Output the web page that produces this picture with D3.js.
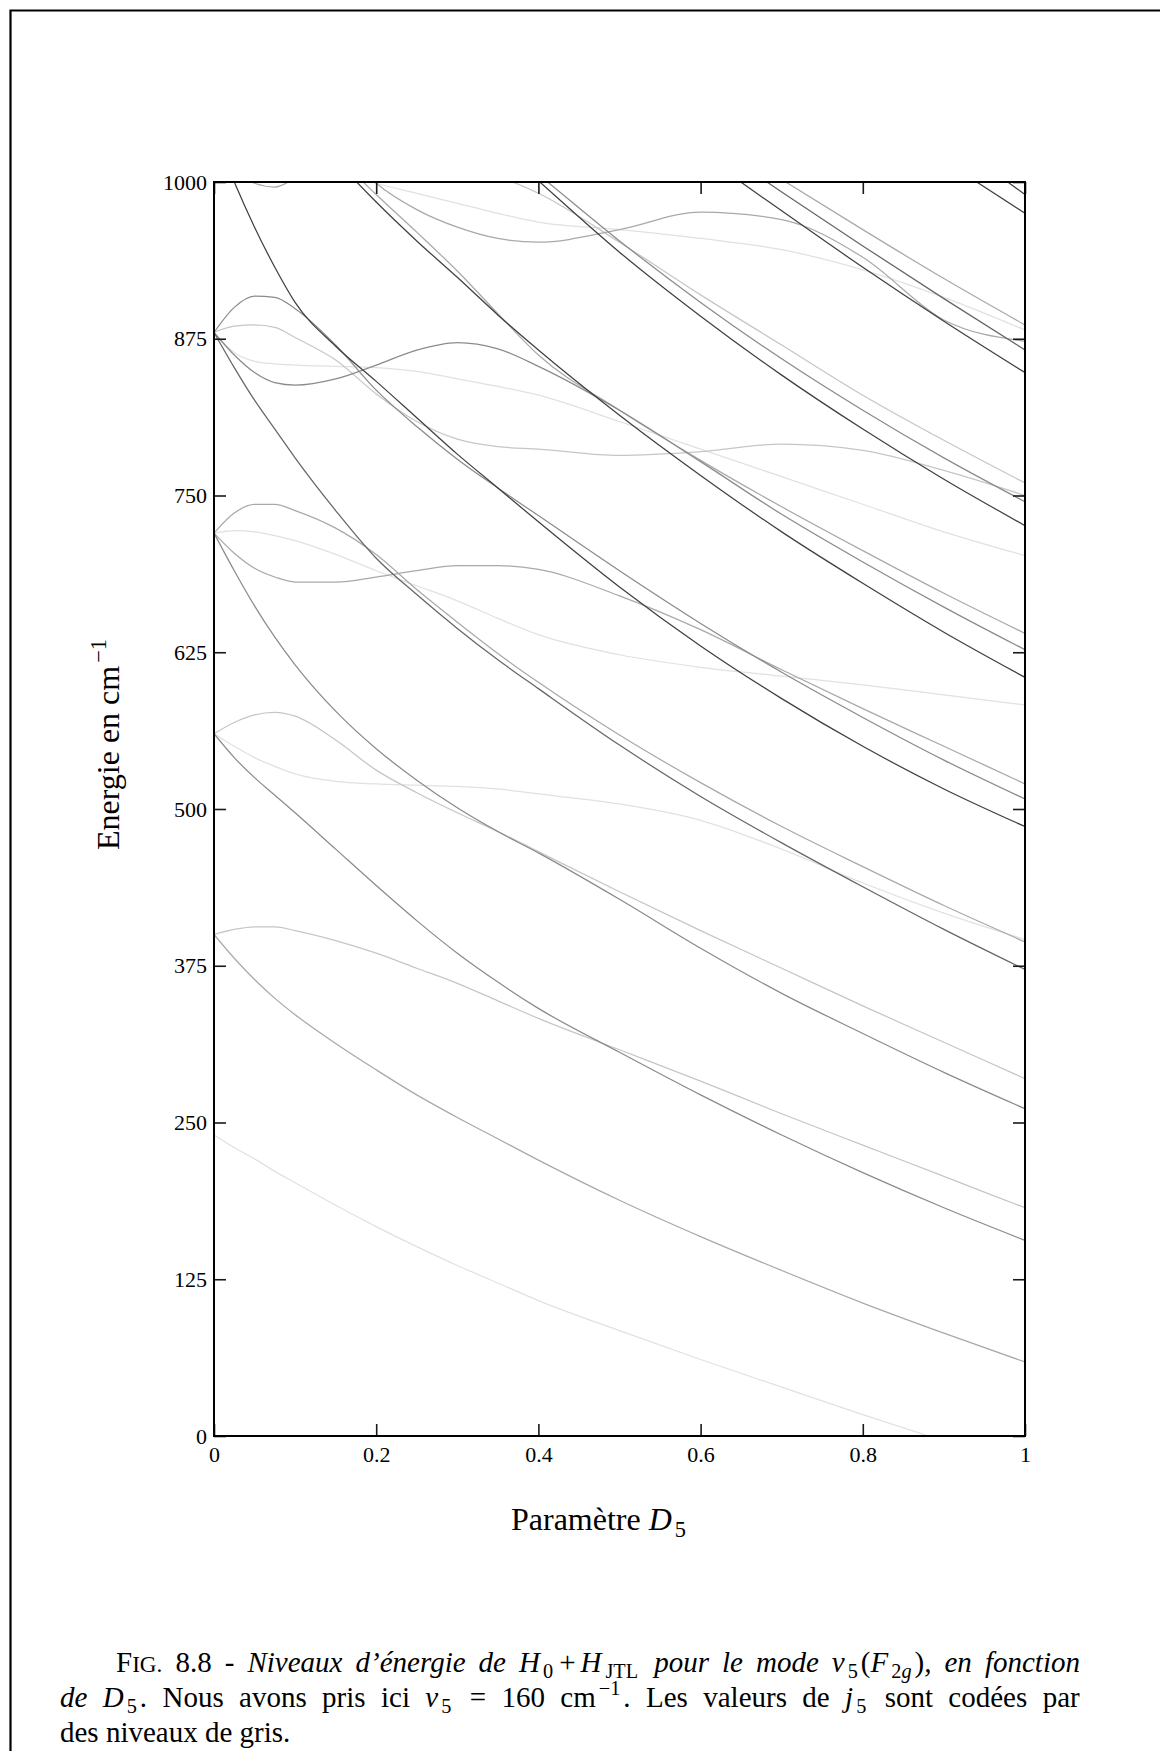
<!DOCTYPE html>
<html><head><meta charset="utf-8">
<script src="https://cdn.jsdelivr.net/npm/d3@7"></script>
<style>
html,body{margin:0;padding:0;background:#fff;}
svg{display:block;}
text{font-family:"Liberation Serif","Times New Roman",serif;fill:#000;}
</style></head><body>
<svg id="chart" width="1160" height="1751"></svg>
<script>
// ---------- data ----------
const xGrid = [0, 0.025, 0.05, 0.075, 0.1, 0.15, 0.2, 0.25, 0.3, 0.35, 0.4, 0.5, 0.6, 0.7, 0.8, 0.9, 1];
const yTicks = [0, 125, 250, 375, 500, 625, 750, 875, 1000];
const xTicks = [0, 0.2, 0.4, 0.6, 0.8, 1];
const xTickLabels = ["0", "0.2", "0.4", "0.6", "0.8", "1"];
const grayLevels = ["#e1e1e1", "#c6c6c6", "#a9a9a9", "#8b8b8b", "#666666", "#404040"];

const level240   = [240,230,221,211,202,184,167,151,136,122,108,84,61,39,17,-4,-24];
const level400a  = [400,381,364,349,336,313,292,272,254,237,220,188,159,132,106,82,59];
const level400b  = [400,404,406,406,403,395,385,373,361,347,333,308,283,257,232,207,182];
const level560a  = [560,541,525,511,497,468,439,411,385,362,341,306,272,240,210,182,156];
const level560b  = [560,569,575,577,574,555,531,513,497,482,466,434,403,373,343,314,285];
const level560c  = [560,550,541,534,528,522,520,519,518,516,512,504,491,468,441,417,396];
const level720a  = [720,704,692,685,681,681,685,690,694,694,691,670,643,611,580,550,520];
const level720b  = [720,690,662,637,615,578,548,523,501,482,465,428,389,353,321,290,261];
const level720c  = [720,736,743,743,738,724,703,675,649,624,601,559,521,486,454,423,394];
const level720d  = [720,722,721,718,714,703,690,678,666,652,639,623,613,606,599,591,583];
const level880a  = [880,852,826,803,780,738,700,671,644,619,596,551,510,473,438,404,372];
const level880b  = [880,900,909,908,899,870,834,805,779,756,734,690,648,609,573,539,508];
const level880c  = [880,885,886,884,876,858,831,809,795,789,787,782,785,791,786,770,750];
const level880d  = [880,864,857,855,854,853,852,849,843,837,830,809,787,765,743,721,702];
const level880e  = [880,862,848,840,838,843,854,866,872,867,853,818,777,735,697,661,627];
const level1040a = [1040,1000,964,932,904,869,841,812,783,756,729,677,630,588,550,516,486];
const level1040b = [1040,1013,999,996,1003,1020,null,null,null,null,null,null,null,null,null,null,null];
const upperA = [null,null,null,null,1055,1018,984,953,924,894,866,814,766,721,680,641,605];
const upperB = [null,null,null,null,1060,1022,990,960,929,895,862,818,778,741,706,672,640];
const upperC = [null,null,null,null,1022,1010,999,991,983,975,968,962,955,946,930,908,882];
const upperD = [null,null,null,null,null,1032,999,978,964,955,952,962,976,970,940,890,873];
const upperE = [null,null,null,null,null,null,null,null,1019,1005,991,952,910,870,830,794,760];
const upperF = [null,null,null,null,null,null,null,null,null,1032,1006,953,904,859,818,780,745];
const upperG = [null,null,null,null,null,null,null,null,null,1030,1001,944,893,846,803,763,726];
const upperH = [null,null,null,null,null,null,null,null,null,null,null,1072,1023,977,932,889,848];
const upperI = [null,null,null,null,null,null,null,null,null,null,null,null,1036,992,949,907,866];
const upperJ = [null,null,null,null,null,null,null,null,null,null,null,null,1043,1002,962,923,886];
const upperK = [null,null,null,null,null,null,null,null,null,null,null,null,null,null,1060,1017,975];
const upperL = [null,null,null,null,null,null,null,null,null,null,null,null,null,null,1078,1036,990];

const curveValues = [level240, level400a, level400b, level560a, level560b, level560c,
  level720a, level720b, level720c, level720d, level880a, level880b, level880c, level880d, level880e,
  level1040a, level1040b, upperA, upperB, upperC, upperD, upperE, upperF, upperG, upperH, upperI,
  upperJ, upperK, upperL];
const curveJ = [0, 2, 1, 3, 1, 0, 2, 3, 2, 0, 4, 3, 1, 0, 3, 5, 2, 5, 2, 0, 2, 1, 3, 5, 5, 4, 2, 5, 5];

// ---------- layout ----------
const svg = d3.select("#chart");
const X0 = 214, X1 = 1025, Y0 = 1436, Y1 = 182;
const x = d3.scaleLinear().domain([0, 1]).range([X0, X1]);
const y = d3.scaleLinear().domain([0, 1000]).range([Y0, Y1]);

// page frame
svg.append("path").attr("d", "M10.5,1751 V10.5 H1160").attr("fill", "none")
  .attr("stroke", "#000").attr("stroke-width", 2.2);

svg.append("defs").append("clipPath").attr("id", "plotclip")
  .append("rect").attr("x", X0).attr("y", Y1).attr("width", X1 - X0).attr("height", Y0 - Y1);

const line = d3.line()
  .defined(d => d[1] !== null)
  .x(d => x(d[0])).y(d => y(d[1]))
  .curve(d3.curveMonotoneX);

const curves = curveValues.map((vals, i) => ({ j: curveJ[i], pts: xGrid.map((g, k) => [g, vals[k]]) }));
curves.sort((a, b) => a.j - b.j);

svg.append("g").attr("clip-path", "url(#plotclip)")
  .selectAll("path").data(curves).join("path")
  .attr("d", d => line(d.pts))
  .attr("fill", "none")
  .attr("stroke", d => grayLevels[d.j])
  .attr("stroke-width", 1.25);

// axes
const tickStyle = g => {
  g.select(".domain").remove();
  g.selectAll(".tick line").attr("stroke", "#1a1a1a").attr("stroke-width", 1.6);
  g.selectAll(".tick text").attr("font-family", '"Liberation Serif", serif').attr("font-size", 22).attr("fill", "#000");
};
svg.append("g").attr("transform", `translate(${X0},0)`)
  .call(d3.axisLeft(y).tickValues(yTicks).tickFormat(d3.format("d")).tickSize(-12).tickPadding(7))
  .call(tickStyle);
svg.append("g").attr("transform", `translate(${X1},0)`)
  .call(d3.axisRight(y).tickValues(yTicks).tickFormat("").tickSize(-12))
  .call(tickStyle);
svg.append("g").attr("transform", `translate(0,${Y0})`)
  .call(d3.axisBottom(x).tickValues(xTicks).tickFormat((d, i) => xTickLabels[i]).tickSize(-12).tickPadding(10))
  .call(tickStyle);
svg.append("g").attr("transform", `translate(0,${Y1})`)
  .call(d3.axisTop(x).tickValues(xTicks).tickFormat("").tickSize(-12))
  .call(tickStyle);

svg.append("rect").attr("x", X0).attr("y", Y1).attr("width", X1 - X0).attr("height", Y0 - Y1)
  .attr("fill", "none").attr("stroke", "#000").attr("stroke-width", 2);

// rich text helper
function rich(sel, segs, size) {
  let shift = 0;
  segs.forEach(s => {
    const target = s.sub ? size * 0.22 : s.sup ? -size * 0.4 : 0;
    const ts = sel.append("tspan").text(s.t);
    if (target - shift !== 0) ts.attr("dy", target - shift);
    let dx = 0;
    if ((s.sub || s.sup) && shift === 0) dx = 3;
    if (!s.sub && !s.sup && shift !== 0) dx = 3;
    if (s.dx) dx += s.dx;
    if (dx) ts.attr("dx", dx);
    shift = target;
    if (s.it) ts.attr("font-style", "italic");
    if (s.sub || s.sup) ts.attr("font-size", size * 0.7);
    if (s.sc) ts.attr("font-size", size * 0.8);
  });
}

// axis titles
const xl = svg.append("text").attr("x", 511).attr("y", 1530).attr("font-size", 32);
rich(xl, [{ t: "Paramètre " }, { t: "D", it: true }, { t: "5", sub: true }], 32);

const yl = svg.append("text").attr("transform", "translate(119,850) rotate(-90)").attr("font-size", 32);
rich(yl, [{ t: "Energie en cm" }, { t: "−1", sup: true }], 32);

// caption (justified between left start and right margin)
function justify(t, right) {
  const node = t.node();
  const spaces = (node.textContent.match(/ /g) || []).length;
  let ws = 0;
  for (let k = 0; k < 3; k++) {
    const b = node.getBBox();
    const gap = right - (b.x + b.width);
    ws += gap / spaces;
    t.style("word-spacing", ws + "px");
  }
}
const cs = 29;
const c1 = svg.append("text").attr("x", 116).attr("y", 1672).attr("font-size", cs);
rich(c1, [{ t: "F" }, { t: "IG.", sc: true }, { t: " 8.8 -  " },
  { t: "Niveaux d’énergie de ", it: true }, { t: "H", it: true }, { t: "0", sub: true },
  { t: "+", dx: 3 }, { t: "H", it: true, dx: 5 }, { t: "JTL", sub: true, dx: 1 },
  { t: " pour le mode ", it: true }, { t: "ν", it: true }, { t: "5", sub: true }, { t: "(" },
  { t: "F", it: true }, { t: "2", sub: true }, { t: "g", sub: true, it: true }, { t: ")" },
  { t: ", en fonction", it: true }], cs);
justify(c1, 1080);

const c2 = svg.append("text").attr("x", 60).attr("y", 1707).attr("font-size", cs);
rich(c2, [{ t: "de ", it: true }, { t: "D", it: true }, { t: "5", sub: true },
  { t: ". Nous avons pris ici " }, { t: "ν", it: true }, { t: "5", sub: true },
  { t: " = 160 cm" }, { t: "−1", sup: true }, { t: ". Les valeurs de " },
  { t: "j", it: true }, { t: "5", sub: true }, { t: " sont codées par" }], cs);
justify(c2, 1080);

const c3 = svg.append("text").attr("x", 60).attr("y", 1742).attr("font-size", cs);
rich(c3, [{ t: "des niveaux de gris." }], cs);
</script>
</body></html>
